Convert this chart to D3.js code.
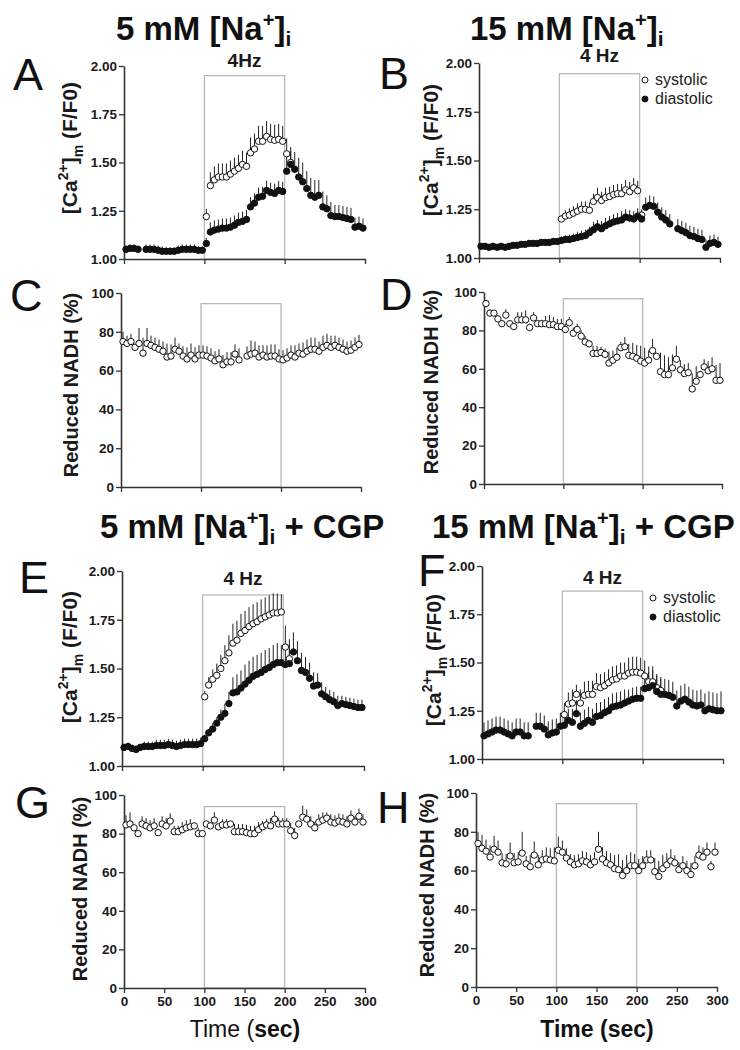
<!DOCTYPE html>
<html><head><meta charset="utf-8">
<script src="https://cdn.jsdelivr.net/npm/d3@7"></script>
<style>body{margin:0;background:#fff} svg{display:block} text{font-family:"Liberation Sans",Arial,sans-serif}</style>
</head><body><svg id="c" width="740" height="1050"></svg>
<script>
// ---------- data ----------
const T = [2.5,7.5,12.5,17.5,22.5,27.5,32.5,37.5,42.5,47.5,52.5,57.5,62.5,67.5,72.5,77.5,82.5,87.5,92.5,97.5,
102.5,107.5,112.5,117.5,122.5,127.5,132.5,137.5,142.5,147.5,152.5,157.5,162.5,167.5,172.5,177.5,182.5,187.5,192.5,197.5,
202.5,207.5,212.5,217.5,222.5,227.5,232.5,237.5,242.5,247.5,252.5,257.5,262.5,267.5,272.5,277.5,282.5,287.5,292.5,297.5];
const N = null;
const caTicks = [1.00,1.25,1.50,1.75,2.00];
const nadhTicks = [0,20,40,60,80,100];
const xTicksTop = [0,100,200,300];
const xTicksBottom = [0,50,100,150,200,250,300];

// Panel A (5 mM)
const A_dia = [1.05,1.055,1.055,1.05,N,1.05,1.05,1.05,1.045,1.04,1.04,1.04,1.04,1.045,1.05,1.05,1.05,1.05,1.045,1.045,
1.08,1.14,1.15,1.155,1.16,1.16,1.165,1.175,1.19,1.195,1.205,1.27,1.29,1.32,1.325,1.355,1.345,1.34,1.355,1.35,
1.455,1.49,1.465,1.425,1.40,1.365,1.33,1.32,1.33,1.27,1.26,1.225,1.22,1.22,1.215,1.21,1.205,1.165,1.17,1.16];
const A_diaErr = [0.02,0.02,0.02,0.02,N,0.025,0.025,0.025,0.025,0.025,0.02,0.02,0.02,0.025,0.025,0.025,0.025,0.025,0.02,0.02,
0.03,0.05,0.05,0.05,0.05,0.05,0.05,0.05,0.05,0.05,0.05,0.05,0.05,0.05,0.05,0.05,0.05,0.05,0.05,0.05,
0.09,0.09,0.09,0.1,0.1,0.09,0.09,0.09,0.08,0.08,0.07,0.07,0.06,0.06,0.06,0.06,0.06,0.05,0.05,0.05];
const A_sys = [N,N,N,N,N,N,N,N,N,N,N,N,N,N,N,N,N,N,N,N,
1.22,1.38,1.41,1.425,1.425,1.425,1.44,1.455,1.47,1.49,1.48,1.55,1.57,1.61,1.61,1.635,1.62,1.615,1.62,1.61,
1.545,1.50,N,N,N,N,N,N,N,N,N,N,N,N,N,N,N,N,N,N];
const A_sysErr = [N,N,N,N,N,N,N,N,N,N,N,N,N,N,N,N,N,N,N,N,
0.04,0.07,0.07,0.07,0.07,0.07,0.07,0.07,0.07,0.07,0.07,0.08,0.08,0.08,0.08,0.08,0.08,0.08,0.08,0.08,
0.08,0.06,N,N,N,N,N,N,N,N,N,N,N,N,N,N,N,N,N,N];

// Panel B (15 mM)
const B_dia = [1.06,1.06,1.055,1.06,1.055,1.06,1.055,1.06,1.065,1.065,1.07,1.07,1.075,1.075,1.075,1.08,1.08,1.08,1.085,1.085,
1.09,1.095,1.095,1.10,1.105,1.11,1.115,1.13,1.145,1.16,1.15,1.165,1.175,1.185,1.19,1.195,1.21,1.205,1.20,1.215,
1.20,1.26,1.27,1.265,1.235,1.21,1.195,1.175,N,1.15,1.14,1.13,1.115,1.11,1.10,1.095,1.055,1.075,1.08,1.07];
const B_diaErr = [0.015,0.015,0.015,0.015,0.015,0.015,0.015,0.015,0.015,0.015,0.015,0.015,0.015,0.015,0.015,0.015,0.015,0.015,0.015,0.015,
0.02,0.02,0.025,0.025,0.03,0.03,0.03,0.03,0.04,0.035,0.04,0.04,0.04,0.04,0.04,0.045,0.04,0.04,0.04,0.04,
0.04,0.05,0.05,0.05,0.05,0.05,0.05,0.05,N,0.05,0.05,0.05,0.05,0.05,0.05,0.05,0.04,0.04,0.04,0.04];
const B_sys = [N,N,N,N,N,N,N,N,N,N,N,N,N,N,N,N,N,N,N,N,
1.20,1.215,1.22,1.23,1.24,1.25,1.25,1.245,1.29,1.31,1.295,1.31,1.315,1.325,1.33,1.33,1.35,1.34,1.36,1.345,
1.22,N,N,N,N,N,N,N,N,N,N,N,N,N,N,N,N,N,N,N];
const B_sysErr = [N,N,N,N,N,N,N,N,N,N,N,N,N,N,N,N,N,N,N,N,
0.02,0.03,0.035,0.035,0.04,0.04,0.04,0.04,0.04,0.05,0.045,0.05,0.05,0.05,0.05,0.05,0.05,0.05,0.05,0.05,
0.03,N,N,N,N,N,N,N,N,N,N,N,N,N,N,N,N,N,N,N];

// Panel C (NADH, 5 mM)
const C_val = [75,74,75,72,74,69,74,73,72,71,70,67,67.5,71,70,67.5,66,68,66,68,
68,67.5,66.5,65,66,63,64.5,64.5,68.5,65.5,N,67.5,68.5,69,67,68,67,67.5,67.5,66,
65.5,66.5,68,67,69,68.5,70,71,71,70,72,73,72,73,72,71,70,70.5,72,73.5];
const C_err = [5,4,4,1,8,8,8,5,5,5,5,7,6,6,4,5,6,6,6,5,
5,5,5,5,5,5,5,5,5,6,N,5,7,6,6,5,6,6,6,5,
5,5,5,6,5,6,6,6,6,5,6,6,6,5,5,5,5,5,5,5];

// Panel D (NADH, 15 mM)
const D_val = [94,89,89,86,83.5,88,83.5,82,85.5,85.5,85.5,81.5,86.5,83.5,83.5,83.5,83,83,82,82,
80.5,84,78.5,80.5,77,74,73,68,68,68.5,67.5,63,64.5,66,71,71.5,67,66.5,65.5,64,
63,64.5,69.5,66.5,58.5,57,57,60.5,65,59.5,57.5,58,49.5,53.5,57,61,59,60,54,54];
const D_err = [1,2,1,1,1,3,1,1,4,4,5,2,3,1,2,4,5,4,4,4,
3,3,3,3,3,3,1,4,4,3,3,6,5,5,3,5,6,7,7,8,
8,5,6,1,10,10,9,7,7,5,5,5,8,8,1,4,5,6,8,9];

// Panel E (5 mM + CGP)
const E_dia = [1.095,1.10,1.09,1.085,1.095,1.10,1.10,1.10,1.105,1.105,1.105,1.11,1.105,1.10,1.105,1.11,1.11,1.11,1.11,1.115,
1.14,1.17,1.19,1.22,1.25,1.27,1.32,1.375,1.38,1.40,1.42,1.44,1.46,1.47,1.48,1.495,1.505,1.52,1.53,1.53,
1.52,1.525,1.585,1.54,1.49,1.48,1.45,1.41,1.415,1.37,1.355,1.34,1.33,1.31,1.32,1.315,1.31,1.305,1.30,1.30];
const E_diaErr = [0.02,0.02,0.02,0.02,0.02,0.025,0.025,0.025,0.03,0.03,0.03,0.03,0.03,0.03,0.03,0.03,0.03,0.03,0.03,0.03,
0.02,0.02,0.03,0.03,0.04,0.05,0.06,0.08,0.09,0.09,0.1,0.1,0.1,0.1,0.1,0.1,0.1,0.1,0.1,0.09,
0.1,0.1,0.1,0.1,0.09,0.08,0.08,0.07,0.06,0.06,0.05,0.05,0.05,0.05,0.04,0.04,0.04,0.04,0.04,0.04];
const E_sys = [N,N,N,N,N,N,N,N,N,N,N,N,N,N,N,N,N,N,N,N,
1.355,1.415,1.445,1.465,1.50,1.54,1.58,1.63,1.645,1.68,1.695,1.715,1.73,1.74,1.755,1.765,1.775,1.785,1.785,1.79,
1.61,1.55,N,N,N,N,N,N,N,N,N,N,N,N,N,N,N,N,N,N];
const E_sysErr = [N,N,N,N,N,N,N,N,N,N,N,N,N,N,N,N,N,N,N,N,
0.03,0.04,0.05,0.06,0.07,0.08,0.09,0.1,0.1,0.1,0.1,0.1,0.1,0.1,0.1,0.1,0.1,0.1,0.1,0.09,
0.11,0.1,N,N,N,N,N,N,N,N,N,N,N,N,N,N,N,N,N,N];

// Panel F (15 mM + CGP)
const F_dia = [1.12,1.13,1.14,1.15,1.15,1.14,1.13,1.12,1.14,1.14,1.12,1.12,N,1.17,1.17,1.155,1.125,1.135,1.14,1.17,
1.175,1.20,1.19,1.235,1.17,1.185,1.20,1.19,1.22,1.225,1.24,1.25,1.27,1.275,1.28,1.29,1.30,1.31,1.315,1.315,
1.365,1.37,1.38,1.35,1.335,1.335,1.33,1.32,1.275,1.30,1.31,1.295,1.28,1.275,1.28,1.25,1.26,1.255,1.25,1.25];
const F_diaErr = [0.07,0.07,0.07,0.07,0.07,0.07,0.07,0.07,0.07,0.07,0.07,0.07,N,0.07,0.07,0.07,0.07,0.07,0.07,0.07,
0.06,0.06,0.07,0.07,0.07,0.07,0.07,0.07,0.07,0.07,0.07,0.07,0.07,0.07,0.07,0.07,0.06,0.06,0.06,0.06,
0.08,0.08,0.08,0.08,0.08,0.08,0.08,0.08,0.08,0.08,0.08,0.08,0.08,0.08,0.08,0.09,0.09,0.09,0.09,0.1];
const F_sys = [N,N,N,N,N,N,N,N,N,N,N,N,N,N,N,N,N,N,N,N,
1.23,1.285,1.29,1.335,1.29,1.33,1.335,1.335,1.375,1.37,1.38,1.395,1.41,1.415,1.43,1.43,1.445,1.45,1.45,1.445,
1.43,1.40,1.40,1.37,1.355,N,N,N,N,N,N,N,N,N,N,N,N,N,N,N];
const F_sysErr = [N,N,N,N,N,N,N,N,N,N,N,N,N,N,N,N,N,N,N,N,
0.06,0.06,0.07,0.05,0.07,0.07,0.07,0.07,0.07,0.07,0.07,0.07,0.07,0.07,0.07,0.07,0.08,0.08,0.08,0.08,
0.08,0.08,0.08,0.07,0.07,N,N,N,N,N,N,N,N,N,N,N,N,N,N,N];

// Panel G (NADH, 5 mM + CGP)
const G_val = [84.5,85,83,80,85,84,83,84,80.5,85,84,86.5,81,81,82,83,83.5,84,80,80,
85,84,87,83.5,84.5,84.5,85,81,81,81,80.5,80,80,82,83.5,84.5,84,87.5,85,85,
85,81.5,79,85,88.5,87.5,85,83,86,87,88,86,85.5,86.5,86,85,88,86,89,86];
const G_err = [5,6,1,1,4,4,4,4,1,4,4,4,3,3,4,4,4,1,3,1,
1,1,4,1,3,3,1,4,4,4,4,4,4,4,3,3,4,4,3,3,
3,4,4,1,6,5,4,3,4,4,3,4,4,4,4,4,4,3,4,4];

// Panel H (NADH, 15 mM + CGP)
const H_val = [74,71.5,70,67,71,69.5,64,63.5,67.5,64,64.5,69,63.5,62,68,63,65.5,66,65.5,65,
70.5,69.5,66.5,64.5,63,63.5,65,64.5,63,64.5,71,66,64,63,61,60.5,57.5,60,62.5,62.5,
60,62.5,65.5,65.5,59.5,57,61,63,65,64,60.5,62.5,60,58,62.5,68,67,69.5,62,69.5];
const H_err = [6,7,6,6,7,6,5,5,7,5,5,11,4,6,7,5,5,6,6,7,
7,6,5,4,5,5,5,5,5,5,9,6,6,6,7,8,8,8,7,6,
6,5,5,5,7,8,7,6,6,4,4,5,5,6,5,5,5,5,3,5];

// ---------- drawing ----------
const svg = d3.select('#c');
const AX = '#333';

function panel(c){
  const x = d3.scaleLinear().domain([0,300]).range([c.left,c.right]);
  const y = d3.scaleLinear().domain(c.dom).range([c.bottom,c.top]);
  const g = svg.append('g');
  g.append('rect').attr('x',x(100)).attr('y',y(c.box))
    .attr('width',x(200)-x(100)).attr('height',y(c.dom[0])-y(c.box))
    .attr('fill','none').attr('stroke','#b4b4b4').attr('stroke-width',1.2);

  const ya = d3.axisLeft(y).tickValues(c.yt).tickFormat(c.fmt).tickSize(5).tickSizeOuter(0).tickPadding(2);
  const yg = g.append('g').attr('transform',`translate(${c.left},0)`).call(ya);
  const xa = d3.axisBottom(x).tickValues(c.xt).tickSize(5).tickSizeOuter(0).tickPadding(3)
    .tickFormat(c.xl ? d3.format('d') : () => '');
  const xg = g.append('g').attr('transform',`translate(0,${c.bottom})`).call(xa);
  [yg,xg].forEach(a=>{
    a.select('.domain').attr('stroke',AX).attr('stroke-width',1.6);
    a.selectAll('.tick line').attr('stroke',AX).attr('stroke-width',1.3);
    a.selectAll('.tick text').attr('fill','#1a1a1a').attr('font-size',13.5).attr('font-weight','bold')
      .attr('font-family','"Liberation Sans",Arial,sans-serif');
  });

  const sets = c.series.map(s => T.map((t,i)=>({t, v:s.v[i], e:s.e[i], f:s.filled})).filter(d=>d.v!=null));
  sets.forEach(pts=>{
    g.append('g').selectAll('line').data(pts.filter(d=>d.e)).join('line')
      .attr('x1',d=>x(d.t)).attr('x2',d=>x(d.t))
      .attr('y1',d=>y(d.v)).attr('y2',d=>y(d.v+d.e))
      .attr('stroke','#222').attr('stroke-width',1);
  });
  sets.forEach(pts=>{
    g.append('g').selectAll('circle').data(pts).join('circle')
      .attr('cx',d=>x(d.t)).attr('cy',d=>y(d.v)).attr('r',3.2)
      .attr('fill',d=>d.f?'#111':'#fff').attr('stroke','#111').attr('stroke-width',1);
  });

  if(c.hz){
    g.append('text').attr('x',x(150)).attr('y',c.hz.y).attr('text-anchor','middle')
      .attr('font-size',19).attr('font-weight','bold').attr('fill','#1a1a1a').text(c.hz.t);
  }
  if(c.legend){
    const L = c.legend;
    [['systolic',false],['diastolic',true]].forEach((d,i)=>{
      g.append('circle').attr('cx',L.x).attr('cy',L.y+i*19).attr('r',3)
        .attr('fill',d[1]?'#111':'#fff').attr('stroke','#111');
      g.append('text').attr('x',L.x+10).attr('y',L.y+i*19+5).attr('font-size',16).attr('fill','#222').text(d[0]);
    });
  }
  svg.append('text').attr('x',c.letter[1]).attr('y',c.letter[2]).attr('font-size',45).attr('fill','#111').text(c.letter[0]);
  const yt = svg.append('text').attr('transform',`translate(${c.yl[0]},${c.yl[1]}) rotate(-90)`)
    .attr('text-anchor','middle').attr('font-size',c.ca?21:20).attr('font-weight','bold').attr('fill','#1a1a1a');
  if(c.ca){
    yt.append('tspan').text('[Ca');
    yt.append('tspan').attr('font-size',14).attr('dy',-9).text('2+');
    yt.append('tspan').attr('dy',9).text(']');
    yt.append('tspan').attr('font-size',14).attr('dy',6).text('m');
    yt.append('tspan').attr('dy',-6).text(' (F/F0)');
  } else {
    yt.text('Reduced NADH (%)');
  }
}

const f2 = d3.format('.2f'), f0 = d3.format('d');
panel({left:124,right:365,top:66,bottom:259,dom:[1,2],yt:caTicks,fmt:f2,box:1.95,xt:xTicksTop,xl:false,
  series:[{v:A_sys,e:A_sysErr,filled:false},{v:A_dia,e:A_diaErr,filled:true}],hz:{t:'4Hz',y:67},
  letter:['A',13,90],yl:[77,148],ca:true});
panel({left:479,right:720,top:63,bottom:258,dom:[1,2],yt:caTicks,fmt:f2,box:1.945,xt:xTicksTop,xl:false,
  series:[{v:B_sys,e:B_sysErr,filled:false},{v:B_dia,e:B_diaErr,filled:true}],hz:{t:'4 Hz',y:62},
  legend:{x:645,y:80},letter:['B',379,89],yl:[438,150],ca:true});
panel({left:121,right:361,top:293,bottom:487,dom:[0,100],yt:nadhTicks,fmt:f0,box:94.5,xt:xTicksTop,xl:false,
  series:[{v:C_val,e:C_err,filled:false}],letter:['C',10,311],yl:[78,385]});
panel({left:484,right:722,top:292,bottom:484,dom:[0,100],yt:nadhTicks,fmt:f0,box:96.5,xt:xTicksTop,xl:false,
  series:[{v:D_val,e:D_err,filled:false}],letter:['D',380,310],yl:[438,382]});
panel({left:122,right:364,top:571,bottom:766,dom:[1,2],yt:caTicks,fmt:f2,box:1.877,xt:xTicksTop,xl:false,
  series:[{v:E_sys,e:E_sysErr,filled:false},{v:E_dia,e:E_diaErr,filled:true}],hz:{t:'4 Hz',y:585},
  letter:['E',19,593],yl:[77,657],ca:true});
panel({left:482,right:723,top:566,bottom:759,dom:[1,2],yt:caTicks,fmt:f2,box:1.87,xt:xTicksTop,xl:false,
  series:[{v:F_sys,e:F_sysErr,filled:false},{v:F_dia,e:F_diaErr,filled:true}],hz:{t:'4 Hz',y:584},
  legend:{x:653,y:598},letter:['F',418,586],yl:[441,660],ca:true});
panel({left:124,right:365,top:795,bottom:988,dom:[0,100],yt:nadhTicks,fmt:f0,box:94,xt:xTicksBottom,xl:true,
  series:[{v:G_val,e:G_err,filled:false}],letter:['G',15,818],yl:[87,889]});
panel({left:476,right:717,top:793,bottom:987,dom:[0,100],yt:nadhTicks,fmt:f0,box:94.5,xt:xTicksBottom,xl:true,
  series:[{v:H_val,e:H_err,filled:false}],letter:['H',377,823],yl:[434,885]});

// titles
function title(x,y,pre,post){
  const t = svg.append('text').attr('x',x).attr('y',y).attr('font-size',33).attr('font-weight','bold').attr('fill','#111');
  t.append('tspan').text(pre);
  t.append('tspan').attr('font-size',20).attr('dy',-13).text('+');
  t.append('tspan').attr('dy',13).text(']');
  t.append('tspan').attr('font-size',21).attr('dy',6).text('i');
  if(post) t.append('tspan').attr('dy',-6).text(post);
}
title(116,40,'5 mM [Na',null);
title(470,40,'15 mM [Na',null);
title(100,538,'5 mM [Na',' + CGP');
title(432,538,'15 mM [Na',' + CGP');

// x-axis titles
const tl = svg.append('text').attr('x',245).attr('y',1037).attr('text-anchor','middle').attr('font-size',23).attr('fill','#111');
tl.append('tspan').text('Time (');
tl.append('tspan').attr('font-weight','bold').text('sec)');
svg.append('text').attr('x',597).attr('y',1037).attr('text-anchor','middle').attr('font-size',23)
  .attr('font-weight','bold').attr('fill','#111').text('Time (sec)');
</script></body></html>
